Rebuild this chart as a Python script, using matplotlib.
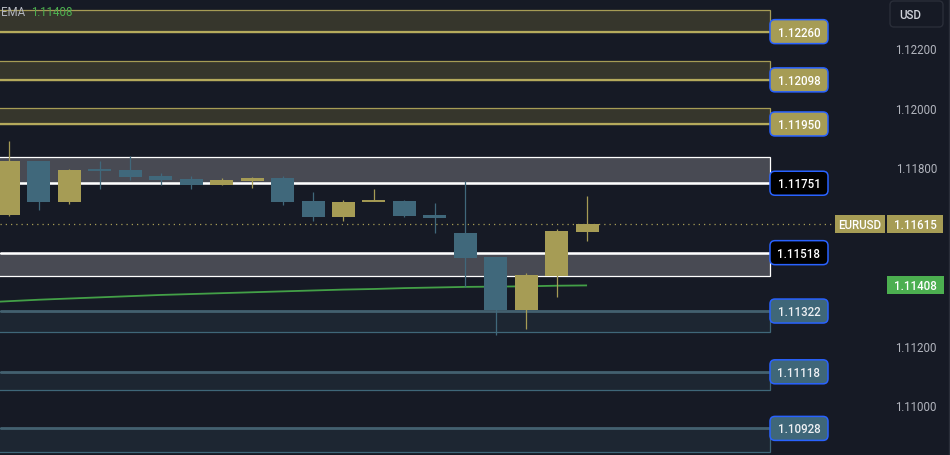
import matplotlib
matplotlib.use('Agg')
import matplotlib.pyplot as plt
from matplotlib.patches import Rectangle, FancyBboxPatch
import matplotlib.transforms as mtransforms

# ---------------- data ----------------
opens  = [1.11644, 1.11826, 1.11688, 1.11795, 1.11795, 1.11775, 1.11765, 1.11745, 1.11759, 1.11769,
          1.11691, 1.11638, 1.11692, 1.11691, 1.11644, 1.11584, 1.11503, 1.11326, 1.11440, 1.11587]
highs  = [1.11893, 1.11826, 1.11799, 1.11826, 1.11842, 1.11785, 1.11775, 1.11769, 1.11772, 1.11775,
          1.11722, 1.11695, 1.11732, 1.11695, 1.11685, 1.11759, 1.11503, 1.11450, 1.11597, 1.11708]
lows   = [1.11641, 1.11661, 1.11681, 1.11732, 1.11762, 1.11745, 1.11732, 1.11745, 1.11735, 1.11678,
          1.11624, 1.11624, 1.11692, 1.11638, 1.11584, 1.11403, 1.11242, 1.11262, 1.11369, 1.11557]
closes = [1.11826, 1.11688, 1.11795, 1.11795, 1.11772, 1.11762, 1.11745, 1.11762, 1.11769, 1.11688,
          1.11638, 1.11688, 1.11692, 1.11641, 1.11634, 1.11500, 1.11326, 1.11443, 1.11591, 1.11615]
doji_up = [False, False, False, False, False, False, False, False, False, False,
           False, False, True, False, False, False, False, False, False, False]

ema_values = [1.11350, 1.11355, 1.11360, 1.11364, 1.11368, 1.11372, 1.11376, 1.11379, 1.11382, 1.11385,
              1.11388, 1.11391, 1.11394, 1.11396, 1.11399, 1.11401, 1.11403, 1.11404, 1.11405, 1.11407,
              1.11408]
ema_first_index = -1

zone_levels = [1.12260, 1.12098, 1.11950, 1.11751, 1.11518, 1.11322, 1.11118, 1.10928]
zone_far    = [1.12333, 1.12161, 1.12004, 1.11839, 1.11440, 1.11252, 1.11056, 1.10849]
zone_kinds  = ['gold', 'gold', 'gold', 'white', 'white', 'blue', 'blue', 'blue']

axis_ticks = [1.12200, 1.12000, 1.11800, 1.11200, 1.11000]
last_price = 1.11615
ema_last = 1.11408
symbol = 'EURUSD'
currency = 'USD'
indicator_name = 'EMA'

# ---------------- style ----------------
W, H = 950, 456
BG = '#161a25'
GOLD = '#a69c55'
BLUE = '#40687b'
FONT = 'Roboto'
FS = 8.3

styles = {
    'gold':  dict(fill='#36362c', edge='#a69c55', level='#b5aa5c', lw=1.6, box='#a69c55', txt='#ffffff'),
    'white': dict(fill='#484a53', edge='#ffffff', level='#ffffff', lw=1.8, box='#000000', txt='#ffffff'),
    'blue':  dict(fill='#1d2632', edge='#3f6779', level='#43606f', lw=2.0, box='#3f6779', txt='#eef0f3'),
}

fig = plt.figure(figsize=(W / 100, H / 100), dpi=100, facecolor=BG)
ax = fig.add_axes([0, 0, 1, 1])
ax.set_facecolor(BG)
ax.axis('off')

ppx = 30.45          # pixels per candle
x0px = 8.5           # pixel of first candle centre
ax.set_xlim((0 - x0px) / ppx, (W - x0px) / ppx)
ax.set_ylim(1.108387, 1.123695)

blend = mtransforms.blended_transform_factory(ax.transAxes, ax.transData)
zone_right = 770 / W

# zones
for lev, far, kind in zip(zone_levels, zone_far, zone_kinds):
    st = styles[kind]
    lo, hi = min(lev, far), max(lev, far)
    ax.add_patch(Rectangle((-0.01, lo), zone_right + 0.01, hi - lo, transform=blend,
                           facecolor=st['fill'], edgecolor=st['edge'], lw=0.9, zorder=1))
    ax.plot([0, zone_right], [lev, lev], transform=blend, color=st['level'], lw=st['lw'], zorder=2,
            solid_capstyle='butt')

# last price dotted line
ax.plot([0, 835 / W], [last_price, last_price], transform=blend, color=GOLD, lw=0.9,
        dashes=(1.0, 3.2), zorder=2.5)

# EMA
ema_x = list(range(ema_first_index, ema_first_index + len(ema_values)))
ax.plot(ema_x, ema_values, color='#43a047', lw=1.3, zorder=3, solid_capstyle='butt')

# candles
bw = 23 / ppx
for i, (o, h, l, c) in enumerate(zip(opens, highs, lows, closes)):
    up = c > o or (c == o and doji_up[i])
    col = GOLD if up else BLUE
    ax.vlines(i, l, h, color=col, lw=0.9, zorder=4)
    if abs(c - o) < 1e-9:
        ax.hlines(o, i - bw / 2, i + bw / 2, color=col, lw=1.4, zorder=5)
    else:
        ax.bar(i, abs(c - o), bottom=min(o, c), width=bw, color=col, lw=0, zorder=5)

# ---------------- overlay in pixel coordinates ----------------
fig.canvas.draw()
def ypx(p):
    return H - ax.transData.transform((0, p))[1]

ov = fig.add_axes([0, 0, 1, 1])
ov.set_xlim(0, W)
ov.set_ylim(H, 0)
ov.axis('off')
ov.patch.set_alpha(0)

# zone labels
for lev, kind in zip(zone_levels, zone_kinds):
    st = styles[kind]
    yc = ypx(lev)
    ov.add_patch(FancyBboxPatch((770, yc - 12), 58, 24, boxstyle='round,pad=0,rounding_size=5',
                                facecolor=st['box'], edgecolor='#2962ff', lw=1.1, zorder=10))
    ov.text(799, yc + 0.5, f'{lev:.5f}', color=st['txt'], fontsize=FS, family=FONT,
            fontweight='medium', ha='center', va='center', zorder=11)

# price axis tick labels
for t in axis_ticks:
    ov.text(937, ypx(t), f'{t:.5f}', color='#b2b5be', fontsize=FS, family=FONT,
            ha='right', va='center', zorder=11)

# last price label
yl = ypx(last_price)
ov.add_patch(Rectangle((835, yl - 9), 50, 18, facecolor=GOLD, lw=0, zorder=10))
ov.add_patch(Rectangle((887, yl - 9), 56, 18, facecolor=GOLD, lw=0, zorder=10))
ov.text(860, yl + 0.5, symbol, color='#ffffff', fontsize=FS, family=FONT, fontweight='medium',
        ha='center', va='center', zorder=11)
ov.text(915, yl + 0.5, f'{last_price:.5f}', color='#ffffff', fontsize=FS, family=FONT,
        fontweight='medium', ha='center', va='center', zorder=11)

# EMA value label
ye = ypx(ema_last)
ov.add_patch(Rectangle((887, ye - 9), 57, 18, facecolor='#4caf50', lw=0, zorder=10))
ov.text(915.5, ye + 0.5, f'{ema_last:.5f}', color='#ffffff', fontsize=FS, family=FONT,
        fontweight='medium', ha='center', va='center', zorder=11)

# currency button
ov.add_patch(FancyBboxPatch((890, 2), 53, 26, boxstyle='round,pad=0,rounding_size=4',
                            facecolor=BG, edgecolor='#2a2e39', lw=1.0, zorder=10))
ov.text(899, 15.5, currency, color='#d1d4dc', fontsize=FS, family=FONT, fontweight='medium',
        ha='left', va='center', zorder=11)

# indicator legend
ov.text(1, 12, indicator_name, color='#b2b5be', fontsize=FS, family=FONT, ha='left', va='center', zorder=11)
ov.text(31, 12, f'{ema_last:.5f}', color='#4caf50', fontsize=FS, family=FONT, ha='left', va='center', zorder=11)

# right border
ov.plot([948.5, 948.5], [0, H], color='#2a2e39', lw=1, zorder=9)

fig.savefig('out.png', dpi=100, facecolor=BG)
